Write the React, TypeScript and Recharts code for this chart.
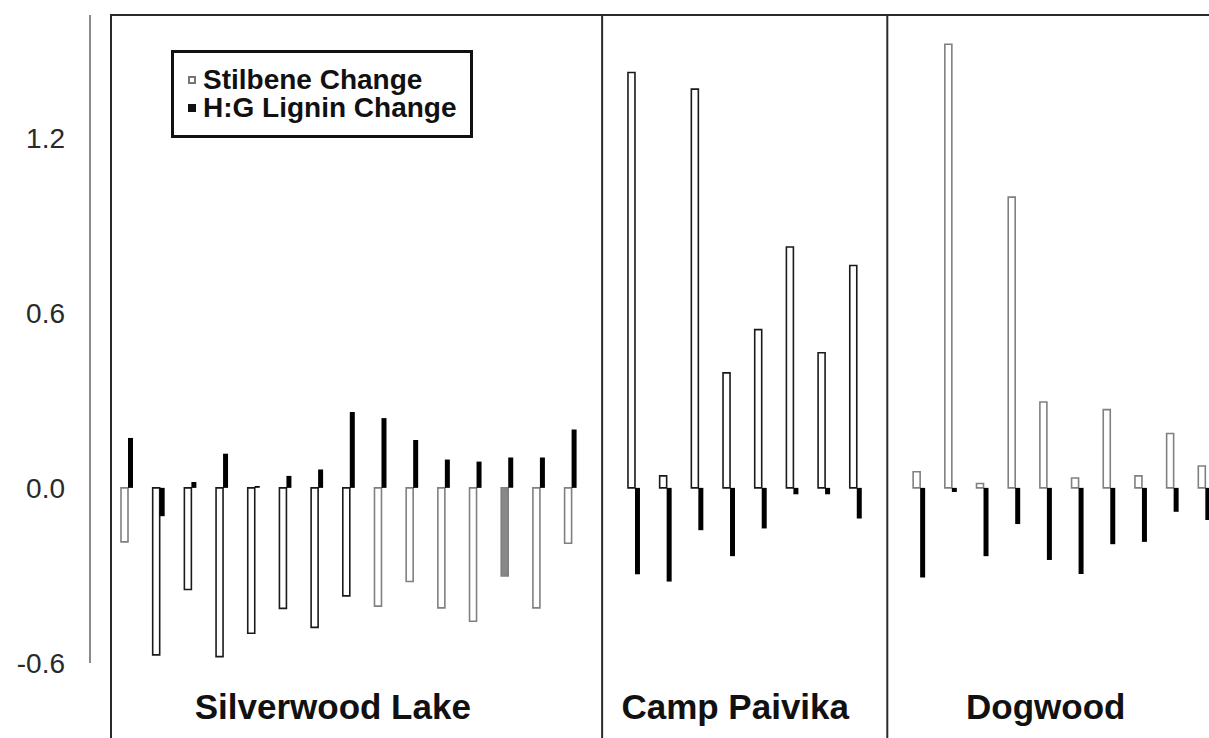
import { Bar, BarChart, Cell, Legend, ReferenceArea, ReferenceLine, XAxis, YAxis } from "recharts";

const FONT = '"Liberation Sans", Arial, Helvetica, sans-serif';

const sites = ["Silverwood Lake", "Camp Paivika", "Dogwood"];
const siteLabelAt = [6.5, 19.2, 29];
const yTicks = [-0.6, 0, 0.6, 1.2];

const silverwoodStilbene = [-0.185, -0.572, -0.348, -0.578, -0.498, -0.413, -0.478, -0.37, -0.405, -0.321, -0.411, -0.457, -0.302, -0.411, -0.19];
const silverwoodLignin = [0.171, -0.097, 0.02, 0.117, 0.006, 0.041, 0.063, 0.26, 0.239, 0.164, 0.097, 0.09, 0.104, 0.104, 0.2];
const campStilbene = [1.423, 0.041, 1.366, 0.394, 0.542, 0.825, 0.463, 0.762];
const campLignin = [-0.296, -0.321, -0.145, -0.234, -0.139, -0.022, -0.022, -0.105];
const dogwoodStilbene = [0.055, 1.52, 0.015, 0.996, 0.294, 0.034, 0.268, 0.041, 0.186, 0.075];
const dogwoodLignin = [-0.307, -0.014, -0.234, -0.124, -0.247, -0.295, -0.193, -0.185, -0.082, -0.11];

// one empty slot between sites, where the panel divider sits
const siteStart = [0, silverwoodStilbene.length + 1, silverwoodStilbene.length + campStilbene.length + 2];
const dividers = [siteStart[1] - 1, siteStart[2] - 1];

type Row = { x: number; site: number; n: number; stilbene: number; lignin: number };

const rows: Row[] = [
  ...silverwoodStilbene.map((v, i) => ({ x: siteStart[0] + i, site: 0, n: i, stilbene: v, lignin: silverwoodLignin[i] })),
  ...campStilbene.map((v, i) => ({ x: siteStart[1] + i, site: 1, n: i, stilbene: v, lignin: campLignin[i] })),
  ...dogwoodStilbene.map((v, i) => ({ x: siteStart[2] + i, site: 2, n: i, stilbene: v, lignin: dogwoodLignin[i] })),
];

// the scanned figure has some open bars drawn with a grey outline
function outline(r: Row) {
  if (r.site === 2) return "#808080";
  if (r.site === 0 && (r.n === 0 || r.n >= 8)) return "#808080";
  return "#1a1a1a";
}

function fill(r: Row) {
  return r.site === 0 && r.n === 12 ? "#888888" : "#ffffff";
}

function LegendBox() {
  const row = { display: "flex", alignItems: "center", height: 28 };
  const swatch = { width: 8, height: 8, marginRight: 7, boxSizing: "border-box" as const };
  return (
    <div
      style={{
        width: 302,
        boxSizing: "border-box",
        border: "3px solid #111",
        background: "#fff",
        padding: "13px 0 13px 14px",
        fontFamily: FONT,
        fontWeight: "bold",
        fontSize: 28,
        color: "#111",
        lineHeight: "28px",
      }}
    >
      <div style={row}>
        <span style={{ ...swatch, border: "2px solid #777", background: "#fff" }} />
        Stilbene Change
      </div>
      <div style={row}>
        <span style={{ ...swatch, background: "#111" }} />
        H:G Lignin Change
      </div>
    </div>
  );
}

export default function App() {
  return (
    <div style={{ position: "fixed", left: 0, top: 0, width: 1209, height: 738, overflow: "hidden", background: "#fff" }}>
      <BarChart
        width={1232}
        height={780}
        data={rows}
        margin={{ top: 15, right: 12, left: 0, bottom: 0 }}
        barGap={0}
      >
        <XAxis
          type="number"
          dataKey="x"
          domain={[-0.5, 34.5]}
          padding={{ left: 21, right: 0 }}
          ticks={siteLabelAt}
          interval={0}
          tickFormatter={(v) => sites[siteLabelAt.indexOf(v)] ?? ""}
          axisLine={false}
          tickLine={false}
          tickSize={0}
          tickMargin={31}
          height={117}
          tick={{ fontSize: 35, fontWeight: "bold", fill: "#111", fontFamily: FONT }}
        />
        <YAxis
          type="number"
          domain={[-0.6, 1.62]}
          ticks={yTicks}
          width={90}
          interval={0}
          tickFormatter={(v) => Number(v).toFixed(1)}
          axisLine={{ stroke: "#8a8a8a", strokeWidth: 2 }}
          tickLine={false}
          tickSize={0}
          tickMargin={25}
          tick={{ fontSize: 28, fill: "#2a2a2a", fontFamily: FONT }}
        />
        <ReferenceArea
          x1={-0.5}
          x2={35}
          y1={-0.9}
          y2={1.62}
          fill="none"
          stroke="#2a2a2a"
          strokeWidth={2}
          ifOverflow="visible"
        />
        {dividers.map((d) => (
          <ReferenceLine
            key={d}
            segment={[
              { x: d, y: -0.9 },
              { x: d, y: 1.62 },
            ]}
            stroke="#2a2a2a"
            strokeWidth={2}
            ifOverflow="visible"
          />
        ))}
        <Legend
          layout="horizontal"
          verticalAlign="middle"
          align="center"
          wrapperStyle={{ top: 50, left: 171, width: "auto" }}
          content={() => <LegendBox />}
        />
        <Bar dataKey="stilbene" name="Stilbene Change" barSize={7} strokeWidth={1.6} isAnimationActive={false}>
          {rows.map((r) => (
            <Cell key={r.x} stroke={outline(r)} fill={fill(r)} />
          ))}
        </Bar>
        <Bar dataKey="lignin" name="H:G Lignin Change" barSize={5} fill="#000" isAnimationActive={false} />
      </BarChart>
    </div>
  );
}
